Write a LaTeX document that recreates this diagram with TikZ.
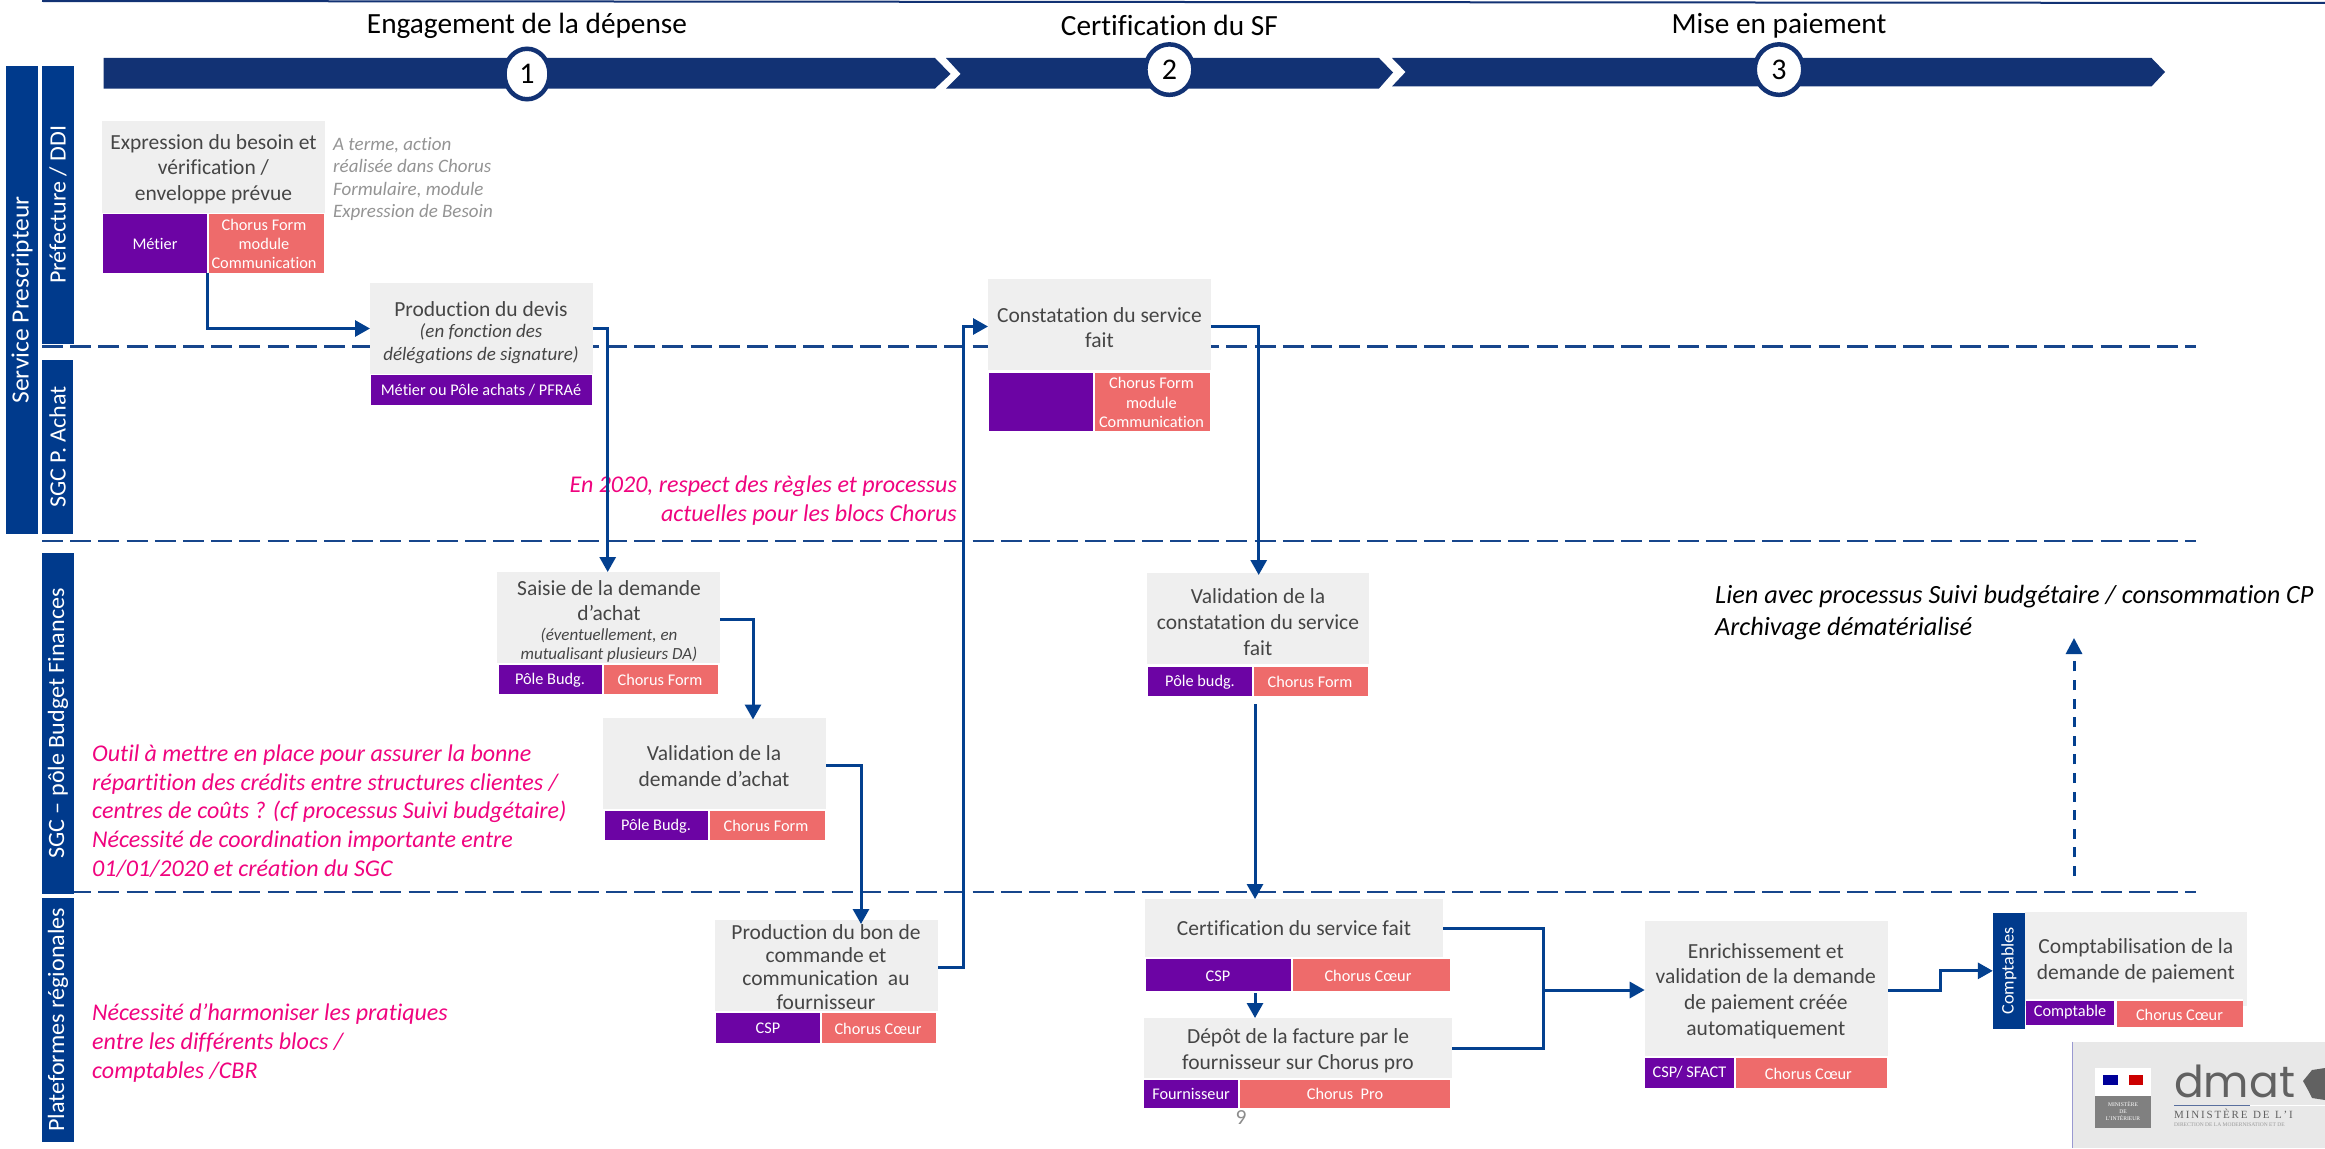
\documentclass[tikz,border=0pt]{standalone}
\usepackage{fontspec}
\setmainfont{Carlito}[FakeStretch=1.0,Ligatures=NoCommon]
\newfontfamily\rotf{Carlito}[FakeStretch=1.03,Ligatures=NoCommon]
\newfontfamily\logof{Poppins}
\newfontfamily\logos{Liberation Serif}
\usetikzlibrary{arrows.meta,shapes.geometric,calc}
\definecolor{navy}{HTML}{123274}
\definecolor{lanec}{HTML}{003A8C}
\definecolor{arrowc}{HTML}{03408F}
\definecolor{dashc}{HTML}{17468C}
\definecolor{greyb}{HTML}{EFEFEF}
\definecolor{purp}{HTML}{6C04A4}
\definecolor{salm}{HTML}{EE6B6B}
\definecolor{pinkt}{HTML}{F0047F}
\definecolor{txt}{HTML}{454545}
\tikzset{
  block/.style={inner sep=0pt,outer sep=0pt,draw=none,anchor=north west},
  gb/.style={block,fill=greyb},
  pb/.style={block,fill=purp},
  sb/.style={block,fill=salm},
  bodytxt/.style={inner sep=0pt,align=center,text=txt,font=\fontsize{21.5}{25.7}\selectfont},
  lab/.style={inner sep=0pt,align=center,text=white,font=\fontsize{16.3}{19.3}\selectfont},
  pinktxt/.style={inner sep=0pt,text=pinkt,font=\fontsize{24}{28.7}\selectfont\itshape},
  title/.style={inner sep=0pt,text=black,font=\fontsize{29.3}{34}\selectfont},
  stepc/.style={ellipse,draw=navy,line width=4.5pt,fill=white,inner sep=0pt,text=black,font=\fontsize{30}{34}\selectfont},
  lane/.style={rotate=90,fill=lanec,inner sep=0pt,text=white,font=\fontsize{23.4}{26}\rotf},
  flow/.style={draw=arrowc,line width=3pt,-{Triangle[length=15pt,width=16pt]}},
  flowplain/.style={draw=arrowc,line width=3pt},
  sep/.style={draw=dashc,line width=2.6pt,dash pattern=on 21pt off 7.2pt},
}
% style, name, x0, y0, x1, y1
\newcommand{\blk}[6]{\node[#1,minimum width={(#5-(#3))*1pt},minimum height={(#6-(#4))*1pt}] (#2) at (#3,#4) {};}
% name, x0, y0, x1, y1, text
\newcommand{\lanebox}[6]{\node[lane,minimum width={(#5-(#3))*1pt},minimum height={(#4-(#2))*1pt}] (#1) at ({(#2+#4)/2},{(#3+#5)/2}) {#6};}
\begin{document}
\begin{tikzpicture}[x=1pt,y=-1pt]
\useasboundingbox (0,0) rectangle (2325,1148);
\clip (0,0) rectangle (2325,1148);
\fill[white] (0,0) rectangle (2325,1148);
% top rule
\draw[navy,line width=2pt] (42,1) -- (2325,3);
% banner
\fill[navy] (103.6,58) -- (935,58) -- (950.5,74) -- (935,88.5) -- (103.6,88.5) -- cycle;
\fill[navy] (946,58) -- (1379,58) -- (1393,72.5) -- (1379,88.5) -- (946,88.5) -- (960.7,74) -- cycle;
\fill[navy] (1392,58) -- (2151.5,58) -- (2165,72) -- (2151.5,86.4) -- (1392,86.4) -- (1405.6,72) -- cycle;
\node[stepc,minimum width=45pt,minimum height=50.5pt] (c1) at (527,74) {1};
\node[stepc,minimum width=48pt,minimum height=50.5pt] (c2) at (1169.4,69.6) {2};
\node[stepc,minimum width=48.5pt,minimum height=50.5pt] (c3) at (1779,69.6) {3};
\node[title] (t1) at (527,25.5) {Engagement de la dépense};
\node[title] (t2) at (1169.4,25.5) {Certification du SF};
\node[title] (t3) at (1779,25.5) {Mise en paiement};
% separators
\draw[sep] (42,346.4) -- (2196,346.4);
\draw[sep] (42,541) -- (2196,541);
\draw[sep] (42,892) -- (2196,892);
% lanes
\lanebox{l0}{6}{66}{38}{534}{\fontsize{24.8}{26}\selectfont Service Prescripteur}
\lanebox{l1}{42}{66}{74}{343.6}{Préfecture / DDI}
\lanebox{l2}{42}{360}{73}{534}{SGC P. Achat}
\lanebox{l3}{42}{553}{74}{893.7}{SGC – pôle Budget Finances}
\lanebox{l4}{42}{897.5}{74}{1142}{Plateformes régionales}
\lanebox{l5}{1993}{913}{2025}{1028.7}{\fontsize{17.6}{20}\selectfont Comptables}
% Expression du besoin
\blk{gb}{g1}{102}{121.4}{325}{212.5}
\blk{pb}{p1}{103}{214}{207}{272.5}
\blk{sb}{s1}{209}{214}{323.5}{272.5}
\node[bodytxt] (g1t) at (213.5,169) {Expression du besoin et\\vérification /\\enveloppe prévue};
\node[lab] (p1t) at (155,244) {Métier};
\node[lab] (s1t) at (264,244) {Chorus Form\\module\\Communication};
\node[inner sep=0pt,align=left,anchor=west,text=black!42,font=\fontsize{19}{22.3}\selectfont\itshape] (note) at (333,179) {A terme, action\\réalisée dans Chorus\\Formulaire, module\\Expression de Besoin};
% Production du devis
\blk{gb}{g2}{370}{283}{593}{374}
\blk{pb}{p2}{371}{375}{592}{405}
\node[bodytxt] (g2a) at (481,309) {Production du devis};
\node[bodytxt,font=\fontsize{19}{23}\selectfont\itshape] (g2b) at (481,343.5) {(en fonction des\\délégations de signature)};
\node[lab] (p2t) at (481,390.5) {Métier ou Pôle achats / PFRAé};
% Saisie
\blk{gb}{g3}{497.4}{572}{720}{663}
\blk{pb}{p3}{498.5}{665}{602}{694}
\blk{sb}{s3}{604}{665}{718.4}{694}
\node[bodytxt] (g3a) at (609,600.5) {Saisie de la demande\\d’achat};
\node[bodytxt,font=\fontsize{17}{19}\selectfont\itshape] (g3b) at (609,645.5) {(éventuellement, en\\mutualisant plusieurs DA)};
\node[lab] (p3t) at (550,680) {Pôle Budg.};
\node[lab] (s3t) at (660,680) {Chorus Form};
% Validation DA
\blk{gb}{g4}{603}{717.5}{826}{809}
\blk{pb}{p4}{604.6}{811}{708}{840}
\blk{sb}{s4}{710}{811}{825}{840}
\node[bodytxt] (g4t) at (714,766) {Validation de la\\demande d’achat};
\node[lab] (p4t) at (656,826) {Pôle Budg.};
\node[lab] (s4t) at (766,826) {Chorus Form};
% Production bon de commande
\blk{gb}{g5}{715}{920}{938}{1010.7}
\blk{pb}{p5}{716}{1013}{820}{1042.6}
\blk{sb}{s5}{822}{1013}{936}{1042.6}
\node[bodytxt,font=\fontsize{21.5}{23.1}\selectfont] (g5t) at (826,967) {Production du bon de\\commande et\\communication~ au\\fournisseur};
\node[lab] (p5t) at (768,1028.5) {CSP};
\node[lab] (s5t) at (878,1028.5) {Chorus Cœur};
% Constatation
\blk{gb}{g6}{988}{279}{1211}{370}
\blk{pb}{p6}{989}{372.5}{1093}{431}
\blk{sb}{s6}{1095.4}{372.5}{1210}{431}
\node[bodytxt] (g6t) at (1099.5,327.5) {Constatation du service\\fait};
\node[lab] (s6t) at (1151.5,402.5) {Chorus Form\\module\\Communication};
% Validation constatation
\blk{gb}{g7}{1147}{573}{1369}{664}
\blk{pb}{p7}{1148}{666.5}{1252}{696}
\blk{sb}{s7}{1254}{666.5}{1368}{696}
\node[bodytxt] (g7t) at (1258,622) {Validation de la\\constatation du service\\fait};
\node[lab] (p7t) at (1200,682) {Pôle budg.};
\node[lab] (s7t) at (1310,682) {Chorus Form};
% Certification
\blk{gb}{g8}{1145}{899}{1443}{957}
\blk{pb}{p8}{1146}{958.6}{1291}{991}
\blk{sb}{s8}{1293}{958.6}{1450}{991}
\node[bodytxt] (g8t) at (1294,928.5) {Certification du service fait};
\node[lab] (p8t) at (1218,976) {CSP};
\node[lab] (s8t) at (1368,976) {Chorus Cœur};
% Depot
\blk{gb}{g9}{1144}{1018}{1452}{1078}
\blk{pb}{p9}{1144.4}{1080}{1238}{1107.5}
\blk{sb}{s9}{1240}{1080}{1450}{1107.5}
\node[bodytxt] (g9t) at (1298,1050.5) {Dépôt de la facture par le\\fournisseur sur Chorus pro};
\node[lab] (p9t) at (1191,1093.5) {Fournisseur};
\node[lab] (s9t) at (1345,1094) {Chorus~ Pro};
\node[inner sep=0pt,text=black!45,font=\fontsize{21.5}{25}\selectfont] (pageno) at (1241,1118) {9};
% Enrichissement
\blk{gb}{g10}{1644.7}{921}{1888}{1056}
\blk{pb}{p10}{1645}{1058}{1733.7}{1087.7}
\blk{sb}{s10}{1736}{1058}{1887}{1087.7}
\node[bodytxt] (g10t) at (1765.8,991) {Enrichissement et\\validation de la demande\\de paiement créée\\automatiquement};
\node[lab] (p10t) at (1689.5,1072) {CSP/ SFACT};
\node[lab] (s10t) at (1808.4,1074) {Chorus Cœur};
% Comptabilisation
\blk{gb}{g11}{2025}{912}{2247}{1006}
\fill[white] (2026,999) rectangle (2243,1027);
\blk{pb}{p11}{2026}{1001}{2114}{1025}
\blk{sb}{s11}{2117}{1001}{2242.6}{1026.7}
\node[bodytxt] (g11t) at (2135.8,961) {Comptabilisation de la\\demande de paiement};
\node[lab] (p11t) at (2070,1012) {Comptable};
\node[lab] (s11t) at (2179.5,1015) {Chorus Cœur};
% pink and black remarks
\node[pinktxt,align=right,anchor=east] (n1) at (957,500.5) {En 2020, respect des règles et processus\\actuelles pour les blocs Chorus};
\node[pinktxt,align=left,anchor=west] (n2) at (92,811) {Outil à mettre en place pour assurer la bonne\\répartition des crédits entre structures clientes /\\centres de coûts ? (cf processus Suivi budgétaire)\\Nécessité de coordination importante entre\\01/01/2020 et création du SGC};
\node[pinktxt,align=left,anchor=west] (n3) at (92,1043) {Nécessité d’harmoniser les pratiques\\entre les différents blocs /\\comptables /CBR};
\node[inner sep=0pt,align=left,anchor=west,text=black,font=\fontsize{26.3}{32}\selectfont\itshape] (n4) at (1715,613) {Lien avec processus Suivi budgétaire / consommation CP\\Archivage dématérialisé};
% connectors
\coordinate (j1) at (963,640);
\coordinate (j2) at (1255,704);
\coordinate (j3) at (1255,993);
\coordinate (j4) at (1543.7,990);
\coordinate (j5) at (1940,980);
\coordinate (j6) at (2074,876);
\coordinate (j7) at (2074,638);
\draw[flow] (p1.south east) |- (g2.west);
\draw[flow] (g2.east) -| ([xshift=-1pt]g3.north);
\draw[flow] ([yshift=-1.5pt]g3.east) -| ([xshift=38.5pt,yshift=-2pt]g4.north);
\draw[flow] ([yshift=-2pt]g4.east) -| ([xshift=34.5pt,yshift=-4pt]g5.north);
\draw[flow] ([yshift=-2pt]g5.east) -| (j1) |- ([yshift=-2pt]g6.west);
\draw[flow] ([yshift=-2pt]g6.east) -| ([xshift=0.7pt,yshift=-2pt]g7.north);
\draw[flow] (j2) -- (j2 |- g8.north);
\draw[flow] (j3) -- (j3 |- g9.north);
\draw[flowplain] (g8.east) -| (j4) |- (g9.east);
\draw[flow] (j4) -- (j4 -| g10.west);
\draw[flow] (j4 -| g10.east) -| (j5) |- (l5.north);
\draw[flowplain,dash pattern=on 10pt off 8.6pt,-{Triangle[length=16pt,width=16pt]}] (j6) -- (j7);
% logo
\fill[black!9] (2072,1041.7) rectangle (2325,1148);
\draw[black!45!blue!40,line width=1pt] (2072.5,1041.7) -- (2072.5,1148);
\fill[white] (2095,1067.7) rectangle (2151,1095.7);
\fill[black!50] (2095,1095.7) rectangle (2151,1127.7);
\fill[blue!60!black] (2103,1075) rectangle (2118,1085);
\fill[red!80!black] (2129,1075) rectangle (2143,1085);
\node[inner sep=0pt,align=center,text=white,font=\fontsize{5.6}{7}\logos] (lg1) at (2123,1111) {MINISTÈRE\\DE\\L’INTÉRIEUR};
\node[inner sep=0pt,anchor=west,text=black!62,font=\fontsize{44}{46}\logof] (lg2) at (2174,1081) {dmat};
\fill[black!62] (2303,1081) -- (2312,1070) -- (2325,1068) -- (2325,1100) -- (2312,1098) -- (2308,1090) -- cycle;
\draw[navy!70,line width=1.2pt] (2174,1105.7) -- (2250,1105.7);
\draw[white,line width=1.2pt] (2250,1105.7) -- (2325,1105.7);
\node[inner sep=0pt,anchor=west,text=black!62,font=\fontsize{11}{13}\logos] (lg3) at (2174,1114) {M\,I\,N\,I\,S\,T\,È\,R\,E\ \ D\,E\ \ L\,’\,I};
\node[inner sep=0pt,anchor=west,text=black!40,font=\fontsize{5.5}{7}\logos] (lg4) at (2174,1125) {DIRECTION DE LA MODERNISATION ET DE};
\end{tikzpicture}
\end{document}
